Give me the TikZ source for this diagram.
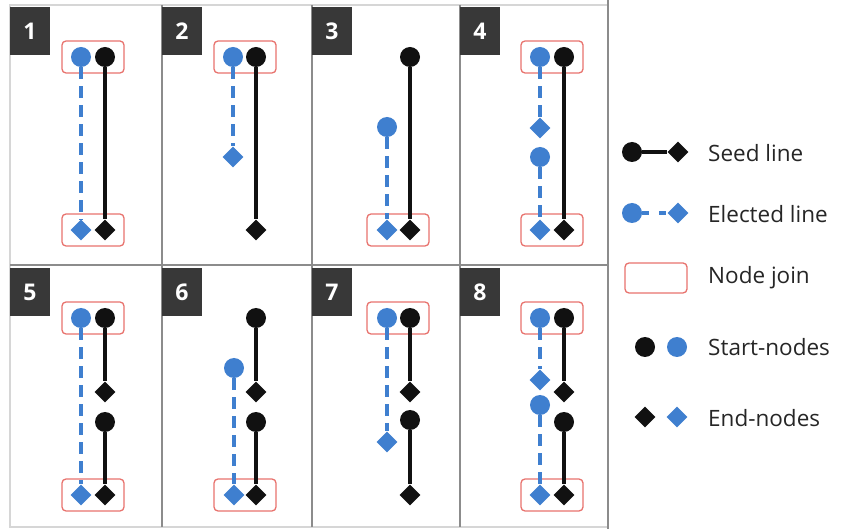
\documentclass[tikz,border=0pt]{standalone}
\usepackage{fontspec}
\setmainfont{Open Sans}
\usetikzlibrary{shapes.geometric}
\definecolor{seedblack}{HTML}{111111}
\definecolor{electblue}{HTML}{3F7FCF}
\definecolor{joinred}{HTML}{E8736E}
\definecolor{gridgrey}{HTML}{8C8C8C}
\definecolor{edgegrey}{HTML}{D6D6D6}
\definecolor{boxgrey}{HTML}{383838}
\tikzset{
  seedstart/.style={circle,fill=seedblack,inner sep=0pt,minimum size=20pt},
  seedend/.style={diamond,fill=seedblack,inner sep=0pt,minimum size=21pt},
  electstart/.style={circle,fill=electblue,inner sep=0pt,minimum size=20pt},
  electend/.style={diamond,fill=electblue,inner sep=0pt,minimum size=21pt},
  seedline/.style={draw=seedblack,line width=3.5pt},
  electline/.style={draw=electblue,line width=4pt,dash pattern=on 12pt off 7pt},
  nodejoin/.style={draw=joinred,line width=1.3pt,rounded corners=4pt,minimum width=62pt,minimum height=32pt,inner sep=0pt},
  numbox/.style={fill=boxgrey,text=white,font=\bfseries\fontsize{23}{23}\selectfont,minimum width=40pt,minimum height=48pt,inner sep=0pt},
  legendtext/.style={anchor=west,inner sep=0pt,text=black!85,font=\fontsize{22.5}{22.5}\selectfont}
}
\begin{document}
\begin{tikzpicture}[x=1pt,y=-1pt]
      \useasboundingbox[fill=white] (0,0) rectangle (860,529);

      % frame of the eight panels
      \draw[edgegrey,line width=1.5pt] (10,5) rectangle (608,527);
      \draw[gridgrey,line width=2pt] (608,0) -- (608,529);
      \draw[gridgrey,line width=2pt] (10,265) -- (608,265);
      \draw[gridgrey,line width=2pt] (162,5) -- (162,527);
      \draw[gridgrey,line width=2pt] (312,5) -- (312,527);
      \draw[gridgrey,line width=2pt] (460,5) -- (460,527);

      \node[numbox] (n1) at (30,31) {1};
      \node[numbox] (n2) at (182,31) {2};
      \node[numbox] (n3) at (332,31) {3};
      \node[numbox] (n4) at (480,31) {4};
      \node[numbox] (n5) at (30,292) {5};
      \node[numbox] (n6) at (182,292) {6};
      \node[numbox] (n7) at (332,292) {7};
      \node[numbox] (n8) at (480,292) {8};

      % panel 1
      \node[nodejoin] (j1a) at (93,57) {};
      \node[nodejoin] (j1b) at (93,230) {};
      \node[electstart] (b1s) at (81,57) {};
      \node[electend] (b1e) at (81,230) {};
      \node[seedstart] (k1s) at (105,57) {};
      \node[seedend] (k1e) at (105,230) {};
      \draw[electline] (b1s) -- (b1e);
      \draw[seedline] (k1s) -- (k1e);

      % panel 2
      \node[nodejoin] (j2a) at (245,57) {};
      \node[electstart] (b2s) at (233,57) {};
      \node[electend] (b2e) at (233,157) {};
      \node[seedstart] (k2s) at (256,57) {};
      \node[seedend] (k2e) at (256,230) {};
      \draw[electline] (b2s) -- (b2e);
      \draw[seedline] (k2s) -- (k2e);

      % panel 3
      \node[nodejoin] (j3b) at (398,230) {};
      \node[electstart] (b3s) at (387,127) {};
      \node[electend] (b3e) at (387,230) {};
      \node[seedstart] (k3s) at (410,57) {};
      \node[seedend] (k3e) at (410,230) {};
      \draw[electline] (b3s) -- (b3e);
      \draw[seedline] (k3s) -- (k3e);

      % panel 4
      \node[nodejoin] (j4a) at (552,57) {};
      \node[nodejoin] (j4b) at (552,230) {};
      \node[electstart] (b4s) at (540,57) {};
      \node[electend] (b4e) at (540,128) {};
      \node[electstart] (b4t) at (540,157) {};
      \node[electend] (b4f) at (540,230) {};
      \node[seedstart] (k4s) at (564,57) {};
      \node[seedend] (k4e) at (564,230) {};
      \draw[electline] (b4s) -- (b4e);
      \draw[electline] (b4t) -- (b4f);
      \draw[seedline] (k4s) -- (k4e);

      % panel 5
      \node[nodejoin] (j5a) at (93,318) {};
      \node[nodejoin] (j5b) at (93,495) {};
      \node[electstart] (b5s) at (81,318) {};
      \node[electend] (b5e) at (81,495) {};
      \node[seedstart] (k5s) at (105,318) {};
      \node[seedend] (k5e) at (105,392) {};
      \node[seedstart] (k5t) at (105,422) {};
      \node[seedend] (k5f) at (105,495) {};
      \draw[electline] (b5s) -- (b5e);
      \draw[seedline] (k5s) -- (k5e);
      \draw[seedline] (k5t) -- (k5f);

      % panel 6
      \node[nodejoin] (j6b) at (245,495) {};
      \node[electstart] (b6s) at (234,368) {};
      \node[electend] (b6e) at (234,495) {};
      \node[seedstart] (k6s) at (256,318) {};
      \node[seedend] (k6e) at (256,392) {};
      \node[seedstart] (k6t) at (256,422) {};
      \node[seedend] (k6f) at (256,495) {};
      \draw[electline] (b6s) -- (b6e);
      \draw[seedline] (k6s) -- (k6e);
      \draw[seedline] (k6t) -- (k6f);

      % panel 7
      \node[nodejoin] (j7a) at (398,318) {};
      \node[electstart] (b7s) at (387,318) {};
      \node[electend] (b7e) at (387,442) {};
      \node[seedstart] (k7s) at (410,318) {};
      \node[seedend] (k7e) at (410,392) {};
      \node[seedstart] (k7t) at (410,420) {};
      \node[seedend] (k7f) at (410,495) {};
      \draw[electline] (b7s) -- (b7e);
      \draw[seedline] (k7s) -- (k7e);
      \draw[seedline] (k7t) -- (k7f);

      % panel 8
      \node[nodejoin] (j8a) at (552,318) {};
      \node[nodejoin] (j8b) at (552,495) {};
      \node[electstart] (b8s) at (540,318) {};
      \node[electend] (b8e) at (540,380) {};
      \node[electstart] (b8t) at (540,405) {};
      \node[electend] (b8f) at (540,495) {};
      \node[seedstart] (k8s) at (564,318) {};
      \node[seedend] (k8e) at (564,392) {};
      \node[seedstart] (k8t) at (564,422) {};
      \node[seedend] (k8f) at (564,495) {};
      \draw[electline] (b8s) -- (b8e);
      \draw[electline] (b8t) -- (b8f);
      \draw[seedline] (k8s) -- (k8e);
      \draw[seedline] (k8t) -- (k8f);

      % legend
      \node[seedstart] (ls1) at (632,152) {};
      \node[seedend] (ls2) at (678,152) {};
      \draw[seedline] (ls1) -- (ls2);
      \node[legendtext] (lt1) at (708,153) {Seed line};

      \node[electstart] (le1) at (632,213) {};
      \node[electend] (le2) at (678,213) {};
      \draw[electline,dash pattern=on 7pt off 10pt] (le1) -- (le2);
      \node[legendtext] (lt2) at (708,214) {Elected line};

      \node[nodejoin,minimum height=30pt] (lj) at (656,278) {};
      \node[legendtext] (lt3) at (708,278) {Node join};

      \node[seedstart] (lk1) at (645,347) {};
      \node[electstart] (lk2) at (677,347) {};
      \node[legendtext] (lt4) at (708,347) {Start-nodes};

      \node[seedend] (lk3) at (645,417) {};
      \node[electend] (lk4) at (677,417) {};
      \node[legendtext] (lt5) at (708,418) {End-nodes};
    \end{tikzpicture}
\end{document}
